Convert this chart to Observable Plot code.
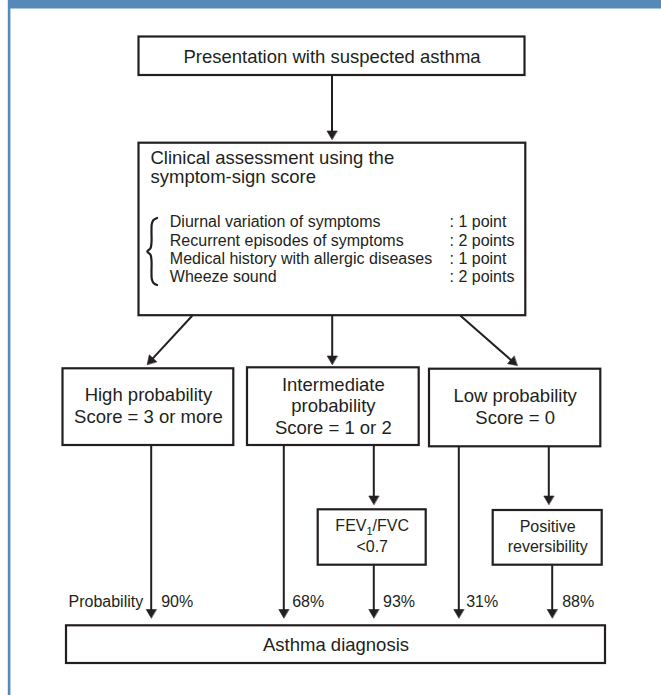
<!DOCTYPE html>
<html><head><meta charset="utf-8">
<script src="https://cdn.jsdelivr.net/npm/d3@7"></script>
<script src="https://cdn.jsdelivr.net/npm/@observablehq/plot@0.6"></script>
<style>
html,body{margin:0;padding:0;background:#fff;}
#chart svg{display:block;}
</style></head><body><div id="chart"></div>
<script>
// ---------------- data (texts and values) ----------------
const topLabel = "Presentation with suspected asthma";
const assessmentTitle = ["Clinical assessment using the", "symptom-sign score"];
const scoreItems = ["Diurnal variation of symptoms", "Recurrent episodes of symptoms", "Medical history with allergic diseases", "Wheeze sound"];
const scorePoints = [": 1 point", ": 2 points", ": 1 point", ": 2 points"];
const probabilityGroups = [
  ["High probability", "Score = 3 or more"],
  ["Intermediate", "probability", "Score = 1 or 2"],
  ["Low probability", "Score = 0"]
];
const tests = [["FEV1/FVC", "<0.7"], ["Positive", "reversibility"]];
const pathwayLabel = "Probability";
const pathwayProbabilities = ["90%", "68%", "93%", "31%", "88%"];
const outcomeLabel = "Asthma diagnosis";

// ---------------- layout (pixel space of the 661x695 figure) ----------------
const W = 661, H = 695;
const ink = "#231f20";
const frameBlue = "#5688ba";
const big = 18.5, small = 16;
const font = "'Liberation Sans', Arial, Helvetica, sans-serif";

const frame = [
  {x1: 8, x2: W, y1: 0, y2: 8.5},
  {x1: 7.8, x2: 10.4, y1: 0, y2: H}
];

const boxes = {
  top:    {x1: 138.5, y1: 36.5,  x2: 524.5, y2: 75},
  assess: {x1: 138.5, y1: 142.7, x2: 525.3, y2: 315.2},
  high:   {x1: 62.5,  y1: 368.3, x2: 233.3, y2: 445},
  mid:    {x1: 247,   y1: 367.3, x2: 418.7, y2: 445},
  low:    {x1: 429,   y1: 368.7, x2: 600.3, y2: 446.3},
  fev:    {x1: 317.7, y1: 509.3, x2: 425.7, y2: 564.7},
  rev:    {x1: 492.7, y1: 510,   x2: 601.7, y2: 564.7},
  dx:     {x1: 66,    y1: 625.3, x2: 605,   y2: 663}
};
const boxList = Object.values(boxes);
const cx = b => (b.x1 + b.x2) / 2;

// arrows: start -> tip
const arrows = [
  {x1: 331.5, y1: 75,    x2: 331.5, y2: 139},
  {x1: 191.7, y1: 315.2, x2: 146.7, y2: 364},
  {x1: 331.7, y1: 315.2, x2: 331.7, y2: 364},
  {x1: 460,   y1: 315.2, x2: 516.7, y2: 365},
  {x1: 150.7, y1: 445,   x2: 150.7, y2: 617.5},
  {x1: 283.3, y1: 445,   x2: 283.3, y2: 617.5},
  {x1: 373.3, y1: 445,   x2: 373.3, y2: 504},
  {x1: 373.3, y1: 564.7, x2: 373.3, y2: 617.5},
  {x1: 458.3, y1: 446.3, x2: 458.3, y2: 617.5},
  {x1: 548.3, y1: 446.3, x2: 548.3, y2: 504},
  {x1: 551.7, y1: 564.7, x2: 551.7, y2: 617.5}
];
const headLen = 8.5, headHalf = 5;
const shafts = [], heads = [];
arrows.forEach((a, i) => {
  const L = Math.hypot(a.x2 - a.x1, a.y2 - a.y1);
  const dx = (a.x2 - a.x1) / L, dy = (a.y2 - a.y1) / L;
  const bx = a.x2 - headLen * dx, by = a.y2 - headLen * dy;
  shafts.push({x1: a.x1, y1: a.y1, x2: a.x2 - (headLen - 1.5) * dx, y2: a.y2 - (headLen - 1.5) * dy});
  heads.push({id: i, x: a.x2, y: a.y2});
  heads.push({id: i, x: bx - headHalf * dy, y: by + headHalf * dx});
  heads.push({id: i, x: bx + headHalf * dy, y: by - headHalf * dx});
});

// curly brace outline
const brace = [
  [156.5, 217.5], [153, 219.5], [151.3, 223.5], [151, 230], [151, 242], [150, 247.8], [146.8, 251],
  [150, 254.2], [151, 260], [151, 272], [151.3, 278.5], [153, 282.5], [156.5, 284.5]
].map(([x, y]) => ({x, y}));

// text placement
const texts = [];
const addLines = (lines, x, baselines, size, anchor) =>
  lines.forEach((t, i) => texts.push({t, x, y: baselines[i], size, anchor}));

const listRows = [226.7, 245, 263.3, 281.7];
addLines([topLabel], cx(boxes.top), [62], big, "middle");
addLines(assessmentTitle, 150, [163, 182.8], big, "start");
addLines(scoreItems, 169.3, listRows, small, "start");
addLines(scorePoints, 449, listRows, small, "start");
addLines(probabilityGroups[0], cx(boxes.high), [400.7, 422.5], big, "middle");
addLines(probabilityGroups[1], cx(boxes.mid), [390, 411.5, 433], big, "middle");
addLines(probabilityGroups[2], cx(boxes.low), [401.5, 423.3], big, "middle");
addLines(tests[0], cx(boxes.fev), [530.5, 551], small, "middle");
addLines(tests[1], cx(boxes.rev), [531, 551.7], small, "middle");
addLines([pathwayLabel], 142.7, [606.7], small, "end");
[160.7, 291.7, 382.5, 465.7, 561.7].forEach((x, i) => addLines([pathwayProbabilities[i]], x, [606.7], small, "start"));
addLines([outcomeLabel], cx(boxes.dx), [650.5], big, "middle");

const textMarks = [big, small].flatMap(size => ["start", "middle", "end"].map(anchor =>
  Plot.text(texts.filter(d => d.size === size && d.anchor === anchor), {
    x: "x", y: "y", text: "t", fontSize: size, textAnchor: anchor, lineAnchor: "bottom",
    fill: ink, fontFamily: font
  })));

const chart = Plot.plot({
  width: W, height: H, margin: 0,
  x: {domain: [0, W], range: [0, W], axis: null},
  y: {domain: [0, H], range: [0, H], axis: null},
  style: {background: "#fff", fontFamily: font, color: ink},
  marks: [
    Plot.rect(frame, {x1: "x1", x2: "x2", y1: "y1", y2: "y2", fill: frameBlue}),
    Plot.rect(boxList, {x1: "x1", x2: "x2", y1: "y1", y2: "y2", fill: "white", stroke: ink, strokeWidth: 2.2}),
    Plot.link(shafts, {x1: "x1", y1: "y1", x2: "x2", y2: "y2", stroke: ink, strokeWidth: 2}),
    Plot.line(heads, {x: "x", y: "y", z: "id", curve: "linear-closed", fill: ink, stroke: ink, strokeWidth: 0.6}),
    Plot.line(brace, {x: "x", y: "y", curve: "catmull-rom", stroke: ink, strokeWidth: 2.2}),
    ...textMarks
  ]
});

// subscript for FEV1
chart.querySelectorAll("text").forEach(t => {
  if (t.textContent === "FEV1/FVC") {
    const ns = "http://www.w3.org/2000/svg";
    t.textContent = "";
    const parts = [["FEV", null, null], ["1", "4", "11"], ["/FVC", "-4", null]];
    parts.forEach(([s, dy, fs]) => {
      const sp = document.createElementNS(ns, "tspan");
      sp.textContent = s;
      if (dy) sp.setAttribute("dy", dy);
      if (fs) sp.setAttribute("font-size", fs);
      t.appendChild(sp);
    });
  }
});

document.getElementById("chart").appendChild(chart);
</script></body></html>
